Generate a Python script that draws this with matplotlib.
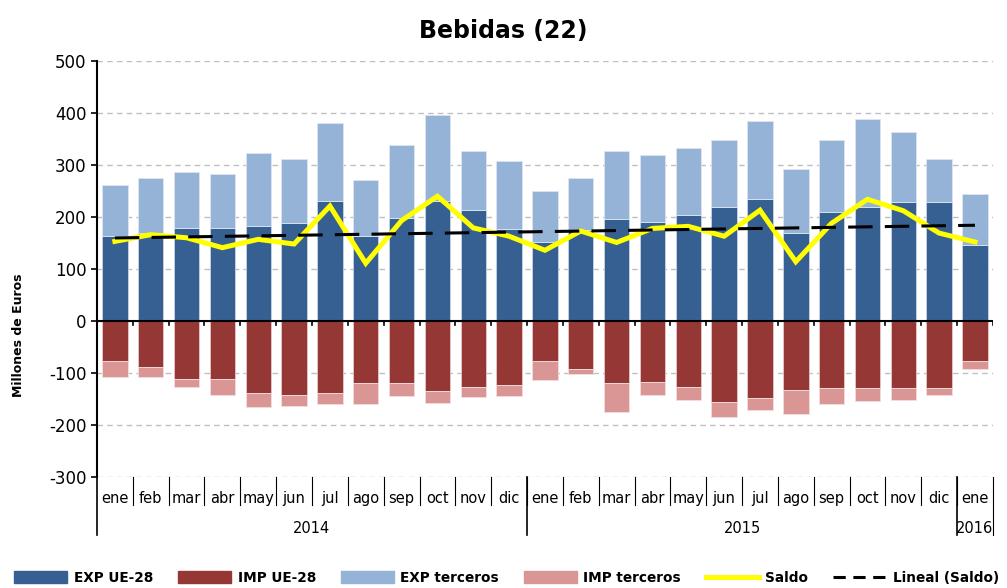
import matplotlib
matplotlib.use("Agg")
from matplotlib import pyplot as plt
from matplotlib.patches import Patch
from matplotlib.lines import Line2D
import numpy as np

plt.rcParams['axes.unicode_minus'] = False

meses = ['ene', 'feb', 'mar', 'abr', 'may', 'jun', 'jul', 'ago', 'sep', 'oct', 'nov', 'dic',
         'ene', 'feb', 'mar', 'abr', 'may', 'jun', 'jul', 'ago', 'sep', 'oct', 'nov', 'dic',
         'ene']
anios = ['2014', '2015', '2016']
meses_por_anio = [12, 12, 1]

# millones de euros
exp_ue = [163, 169, 179, 179, 182, 188, 231, 163, 198, 231, 213, 176,
          152, 175, 197, 190, 204, 219, 235, 169, 210, 219, 228, 228, 146]
exp_terceros = [98, 105, 107, 104, 141, 123, 150, 108, 140, 166, 113, 132,
                98, 99, 129, 130, 129, 129, 150, 123, 138, 169, 135, 83, 98]
imp_ue = [77, 89, 112, 112, 139, 142, 139, 120, 120, 135, 126, 123,
          77, 92, 120, 117, 126, 156, 148, 133, 129, 129, 129, 129, 77]
imp_terceros = [31, 19, 14, 30, 27, 21, 21, 40, 25, 22, 21, 22,
                37, 9, 55, 25, 25, 29, 24, 45, 31, 25, 22, 13, 15]

c_exp_ue = '#376092'
c_imp_ue = '#953735'
c_exp_ter = '#95b3d7'
c_imp_ter = '#da9694'

exp_ue = np.array(exp_ue)
exp_terceros = np.array(exp_terceros)
imp_ue = np.array(imp_ue)
imp_terceros = np.array(imp_terceros)
saldo = exp_ue + exp_terceros - imp_ue - imp_terceros

x = np.arange(len(meses))
a, b = np.polyfit(x, saldo, 1)
tendencia = a * x + b

fig = plt.figure(figsize=(10.07, 5.88), dpi=100)
ax = fig.add_axes([0.0963, 0.1888, 0.8897, 0.7075])

w = 0.71
ax.bar(x, exp_ue, w, color=c_exp_ue, edgecolor='#c8d4e6', linewidth=0.6, zorder=2)
ax.bar(x, exp_terceros, w, bottom=exp_ue, color=c_exp_ter, edgecolor='#dde6f2', linewidth=0.6, zorder=2)
ax.bar(x, -imp_ue, w, color=c_imp_ue, edgecolor='#e8c8c8', linewidth=0.6, zorder=2)
ax.bar(x, -imp_terceros, w, bottom=-imp_ue, color=c_imp_ter, edgecolor='#f2dede', linewidth=0.6, zorder=2)

ax.plot(x, saldo, color='#ffff00', lw=3.6, solid_joinstyle='miter', zorder=3)
ax.plot(x, tendencia, color='black', lw=2.2, dashes=(8, 4), zorder=4)

ax.set_xlim(-0.5, len(meses) - 0.5)
ax.set_ylim(-300, 500)
ax.set_yticks(np.arange(-300, 501, 100))
ax.tick_params(axis='y', labelsize=12, length=4, width=1.2, direction='out')
ax.yaxis.grid(True, linestyle=(0, (4, 3)), color='#bfbfbf', lw=1)
ax.set_axisbelow(True)
for s in ['top', 'right', 'bottom']:
    ax.spines[s].set_visible(False)
ax.spines['left'].set_linewidth(1.5)
ax.spines['left'].set_bounds(-300, 500)

# eje horizontal en cero con marcas entre meses
ax.axhline(0, color='black', lw=1.5, zorder=5)
for xb in np.arange(0.5, len(meses), 1):
    ax.plot([xb, xb], [0, -7], color='black', lw=1.2, zorder=5)
ax.set_xticks([])

# etiquetas de meses y años bajo el gráfico
tr = ax.get_xaxis_transform()
for i, m in enumerate(meses):
    ax.text(i, -0.052, m, transform=tr, ha='center', va='center', fontsize=10.5)
for xb in np.arange(0.5, len(meses) - 1, 1):
    ax.plot([xb, xb], [0, -0.068], transform=tr, color='black', lw=0.8, clip_on=False)
inicio = 0
bordes = [-0.5]
for anio, n in zip(anios, meses_por_anio):
    ax.text(inicio + n / 2 - 0.5, -0.125, anio, transform=tr, ha='center', va='center', fontsize=10.5)
    inicio += n
    bordes.append(inicio - 0.5)
for xb in bordes[:-1]:
    ax.plot([xb, xb], [0, -0.14], transform=tr, color='black', lw=1.2, clip_on=False)
ax.plot([bordes[-1], bordes[-1]], [0, -0.14], transform=tr, color='black', lw=0.8, clip_on=False)

fig.text(0.5, 0.948, 'Bebidas (22)', ha='center', va='center', fontsize=17, fontweight='bold')
fig.text(0.018, 0.43, 'Millones de Euros', rotation=90, ha='center', va='center',
         fontsize=9, fontweight='bold')

handles = [Patch(color=c_exp_ue), Patch(color=c_imp_ue), Patch(color=c_exp_ter),
           Patch(color=c_imp_ter), Line2D([], [], color='#ffff00', lw=3.6),
           Line2D([], [], color='black', lw=2.2, dashes=(4, 2.5))]
etiquetas = ['EXP UE-28', 'IMP UE-28', 'EXP terceros', 'IMP terceros', 'Saldo', 'Lineal (Saldo)']
fig.legend(handles, etiquetas, loc='center', bbox_to_anchor=(0.503, 0.017), ncol=6,
           frameon=False, handlelength=3.9, handleheight=1.0, columnspacing=1.8,
           handletextpad=0.5, prop={'weight': 'bold', 'size': 9.8})

fig.savefig('out.png', dpi=100)
